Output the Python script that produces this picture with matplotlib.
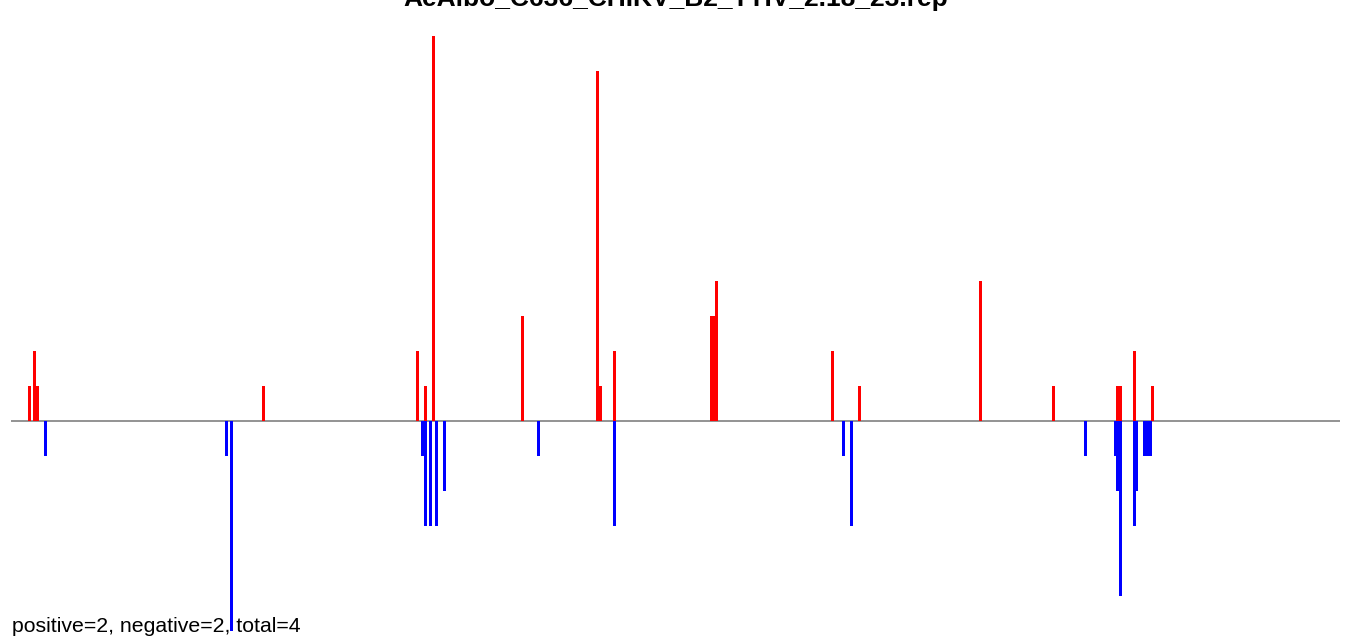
import matplotlib
matplotlib.use('Agg')
import matplotlib.pyplot as plt

title = 'AeAlbo_C636_CHIKV_B2_TTIV_2.18_23.rep'

# positive (red) reads: position along the sequence axis, count
pos_x = [28, 33, 36, 262, 416, 424, 432, 521, 596, 599, 613,
         710, 712, 715, 831, 858, 979, 1052, 1116, 1119, 1133, 1151]
pos_n = [1, 2, 1, 1, 2, 1, 11, 3, 10, 1, 2,
         3, 3, 4, 2, 1, 4, 1, 1, 1, 2, 1]

# negative (blue) reads
neg_x = [44, 225, 230, 421, 424, 429, 435, 443, 537, 613, 842,
         850, 1084, 1114, 1116, 1119, 1133, 1135, 1143, 1146, 1149]
neg_n = [1, 1, 6, 1, 3, 3, 3, 2, 1, 3, 1,
         3, 1, 1, 2, 5, 3, 2, 1, 1, 1]

seq_start, seq_end = 11, 1340
n_pos, n_neg = 2, 2

plt.rcParams['font.family'] = ['Liberation Sans', 'DejaVu Sans']

fig = plt.figure(figsize=(13.52, 6.43), dpi=100)
ax = fig.add_axes([0, 0, 1, 1])
ax.set_xlim(0, 1352)
ax.set_ylim(-(643 - 421) / 35, 421 / 35)
ax.axis('off')

ax.hlines(0, seq_start, seq_end, color='#808080', lw=1.2, zorder=1)
ax.bar(pos_x, pos_n, width=3, align='edge', color='red', linewidth=0, zorder=2)
ax.bar(neg_x, [-v for v in neg_n], width=3, align='edge', color='blue', linewidth=0, zorder=2)

# title sits partly above the top edge, as in the original
fig.text(0.5, 1 - 6 / 643, title, ha='center', va='baseline',
         fontsize=19, fontweight='bold')
fig.text(12 / 1352, 1 - 632 / 643,
         'positive=%d, negative=%d, total=%d' % (n_pos, n_neg, n_pos + n_neg),
         ha='left', va='baseline', fontsize=15.3)

fig.savefig('out.png', dpi=100)
